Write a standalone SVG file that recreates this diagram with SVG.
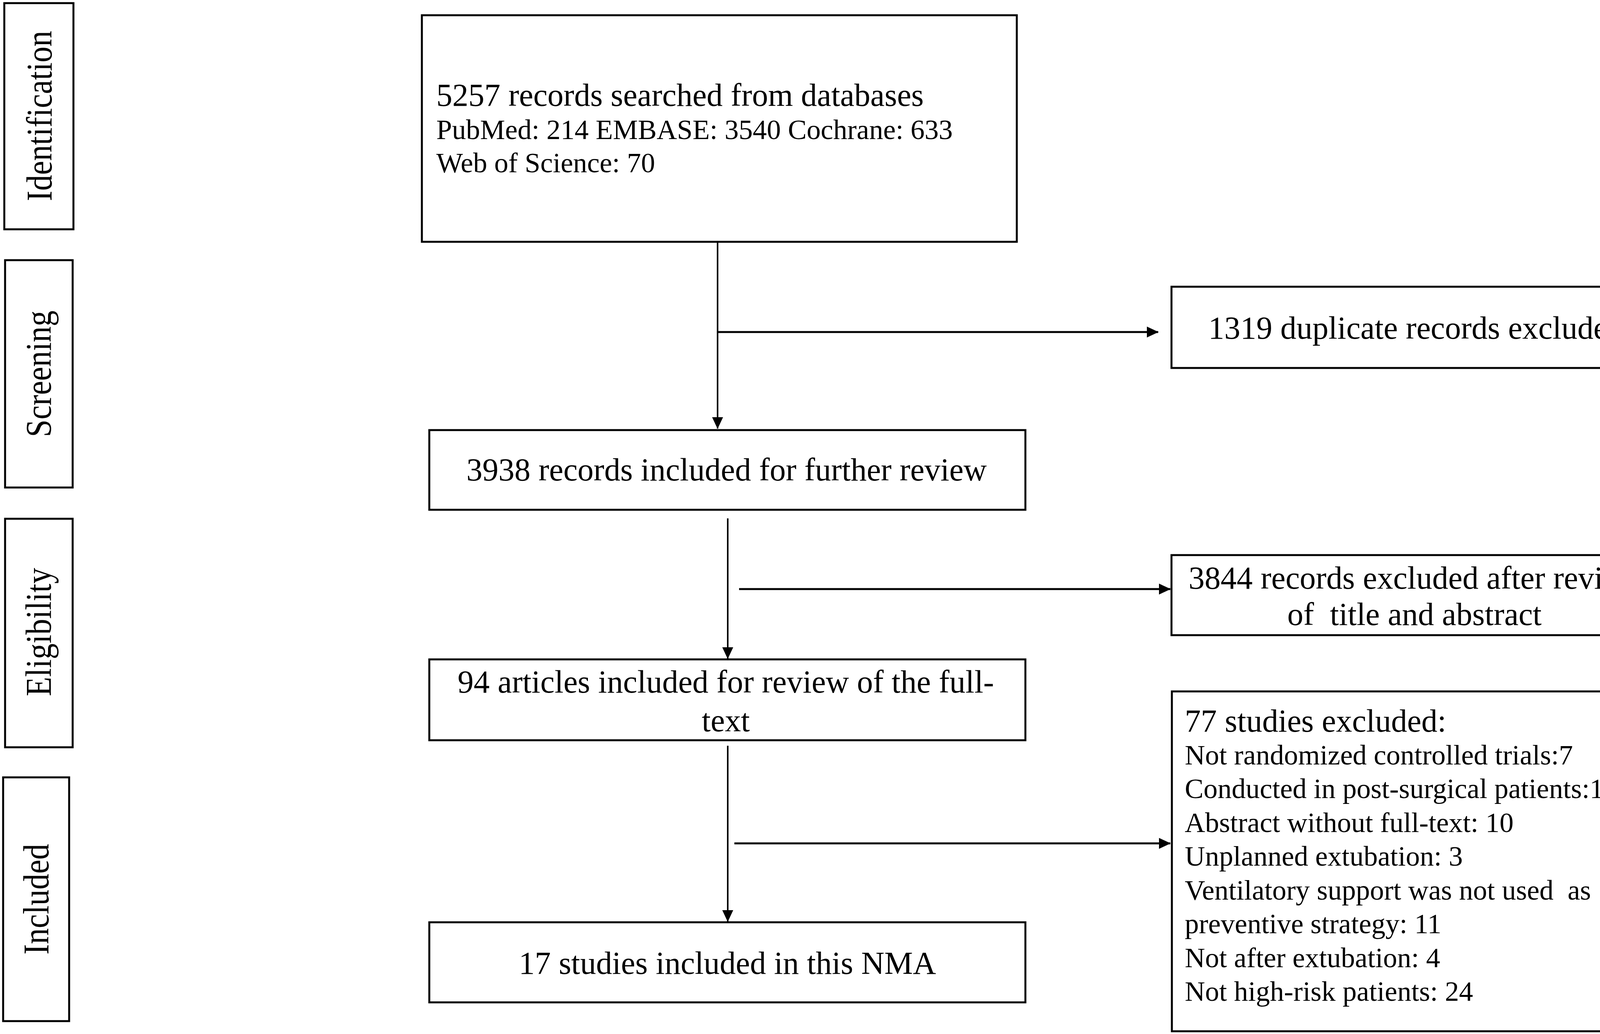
<svg xmlns="http://www.w3.org/2000/svg" width="4317" height="2647" viewBox="0 0 4317 2647">
<defs>
<marker id="ah" markerUnits="userSpaceOnUse" markerWidth="30" markerHeight="30" refX="29" refY="14" orient="auto">
<path d="M0,0 L30,14 L0,28 Z" fill="#000"/>
</marker>
<style>
.box{fill:#fff;stroke:#000;stroke-width:5}
.t{font-family:"Liberation Serif","Times New Roman",serif;fill:#000}
.big{font-size:82px}
.sm{font-size:72px}
.lab{font-family:"Liberation Serif","Times New Roman",serif;font-size:81px;fill:#000;text-anchor:middle}
.c{text-anchor:middle}
.ln{stroke:#000;stroke-width:4;fill:none}
.lnh{stroke:#000;stroke-width:5;fill:none}
</style>
</defs>
<rect width="4317" height="2647" fill="#fff"/>

<g id="stage-identification">
<rect class="box" x="11" y="8" width="177" height="579"/>
<text class="lab" transform="translate(132,297) rotate(-90) scale(1,1.15)">Identification</text>
</g>
<g id="stage-screening">
<rect class="box" x="13" y="666" width="173" height="582"/>
<text class="lab" transform="translate(130,957) rotate(-90) scale(1,1.15)">Screening</text>
</g>
<g id="stage-eligibility">
<rect class="box" x="13" y="1328" width="173" height="585"/>
<text class="lab" transform="translate(130,1618) rotate(-90) scale(1,1.15)">Eligibility</text>
</g>
<g id="stage-included">
<rect class="box" x="8" y="1990" width="169" height="624"/>
<text class="lab" transform="translate(124,2302) rotate(-90) scale(1,1.15)">Included</text>
</g>

<g id="connectors">
<line class="ln" x1="1837" y1="619" x2="1837" y2="1097" marker-end="url(#ah)"/>
<line class="lnh" x1="1837" y1="850" x2="2965" y2="850" marker-end="url(#ah)"/>
<line class="ln" x1="1863" y1="1327" x2="1863" y2="1686" marker-end="url(#ah)"/>
<line class="lnh" x1="1892" y1="1508" x2="2996" y2="1508" marker-end="url(#ah)"/>
<line class="ln" x1="1863" y1="1909" x2="1863" y2="2359" marker-end="url(#ah)"/>
<line class="lnh" x1="1880" y1="2159" x2="2996" y2="2159" marker-end="url(#ah)"/>
</g>

<g id="node-records-searched">
<rect class="box" x="1080" y="39" width="1523" height="580"/>
<text class="t big" x="1117" y="271">5257 records searched from databases</text>
<text class="t sm" x="1117" y="356">PubMed: 214 EMBASE: 3540 Cochrane: 633</text>
<text class="t sm" x="1117" y="441">Web of Science: 70</text>
</g>

<g id="node-duplicates">
<rect class="box" x="2999" y="734" width="1252" height="208"/>
<text class="t big c" x="3625" y="867">1319 duplicate records excluded</text>
</g>

<g id="node-further-review">
<rect class="box" x="1099" y="1101" width="1526" height="204"/>
<text class="t big c" x="1860" y="1230">3938 records included for further review</text>
</g>

<g id="node-excluded-title">
<rect class="box" x="2999" y="1421" width="1252" height="205"/>
<text class="t big c" x="3621" y="1507">3844 records excluded after review</text>
<text class="t big c" x="3621" y="1600" xml:space="preserve">of  title and abstract</text>
</g>

<g id="node-full-text">
<rect class="box" x="1099" y="1688" width="1526" height="207"/>
<text class="t big c" x="1858" y="1773">94 articles included for review of the full-</text>
<text class="t big c" x="1858" y="1872">text</text>
</g>

<g id="node-studies-excluded">
<rect class="box" x="3000" y="1770" width="1306" height="870"/>
<text class="t big" x="3033" y="1873">77 studies excluded:</text>
<text class="t sm" x="3033" y="1957">Not randomized controlled trials:7</text>
<text class="t sm" x="3033" y="2043">Conducted in post-surgical patients:19</text>
<text class="t sm" x="3033" y="2130">Abstract without full-text: 10</text>
<text class="t sm" x="3033" y="2216">Unplanned extubation: 3</text>
<text class="t sm" x="3033" y="2303" xml:space="preserve">Ventilatory support was not used  as</text>
<text class="t sm" x="3033" y="2389">preventive strategy: 11</text>
<text class="t sm" x="3033" y="2476">Not after extubation: 4</text>
<text class="t sm" x="3033" y="2562">Not high-risk patients: 24</text>
</g>

<g id="node-included-nma">
<rect class="box" x="1099" y="2361" width="1526" height="205"/>
<text class="t big c" x="1862" y="2493">17 studies included in this NMA</text>
</g>
</svg>
